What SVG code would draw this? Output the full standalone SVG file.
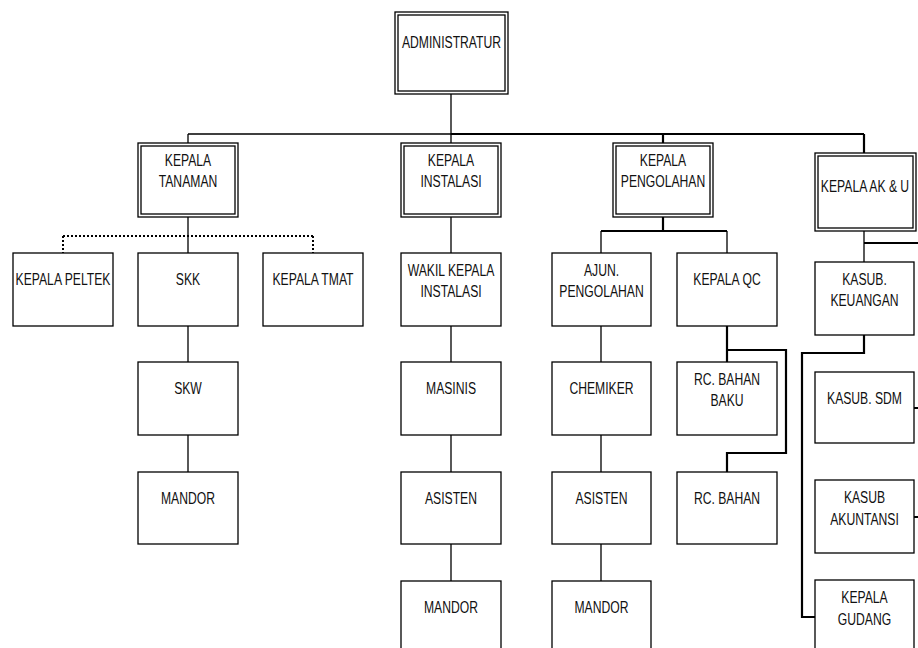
<svg xmlns="http://www.w3.org/2000/svg" width="918" height="648" viewBox="0 0 918 648">
<style>
.b{fill:#fff;stroke:#000;stroke-width:1.3}
.d{fill:none;stroke:#000;stroke-width:1.3}
.t{font-family:"Liberation Sans",Arial,sans-serif;font-size:16px;fill:#111;text-anchor:middle}
.l{fill:none;stroke:#000;stroke-width:1.3}
.k{fill:none;stroke:#000;stroke-width:2.2}
.dot{fill:none;stroke:#000;stroke-width:2;stroke-dasharray:2 2}
</style>
<rect width="918" height="648" fill="#fff"/>
<g id="connectors">
<path class="l" d="M451 94V134M188 134H451M188 134V143M451 134V143"/>
<path class="k" d="M451 134H864M663 134V143M864 134V153"/>
<path class="dot" d="M63 236H313M63 236V253M313 236V253"/>
<path class="l" d="M188 217V253M188 326V362M188 435V472"/>
<path class="l" d="M451 217V253M451 326V362M451 435V472M451 544V581"/>
<path class="k" d="M663 217V231M601 231H727"/>
<path class="l" d="M601 231V253M727 231V253M601 326V362M601 435V472M601 544V581"/>
<path class="k" d="M727 326V350H786V453H727V472M727 350V362"/>
<path class="l" d="M864 231V262"/>
<path class="k" d="M864 243H918M864 335V353H802V617H815M914 408H918M914 517H918"/>
</g>
<g id="administratur"><rect class="b" x="395" y="12" width="113" height="82"/><rect class="d" x="398" y="15" width="107" height="76"/><text class="t" transform="translate(451.5 48) scale(0.76 1)">ADMINISTRATUR</text></g>
<g id="kepala-tanaman"><rect class="b" x="138" y="143" width="100" height="74"/><rect class="d" x="141" y="146" width="94" height="68"/><text class="t" transform="translate(188 166) scale(0.76 1)">KEPALA</text><text class="t" transform="translate(188 187) scale(0.76 1)">TANAMAN</text></g>
<g id="kepala-instalasi"><rect class="b" x="401" y="143" width="100" height="74"/><rect class="d" x="404" y="146" width="94" height="68"/><text class="t" transform="translate(451 166) scale(0.76 1)">KEPALA</text><text class="t" transform="translate(451 187) scale(0.76 1)">INSTALASI</text></g>
<g id="kepala-pengolahan"><rect class="b" x="613" y="143" width="100" height="74"/><rect class="d" x="616" y="146" width="94" height="68"/><text class="t" transform="translate(663 166) scale(0.76 1)">KEPALA</text><text class="t" transform="translate(663 187) scale(0.76 1)">PENGOLAHAN</text></g>
<g id="kepala-aku"><rect class="b" x="815" y="153" width="101" height="78"/><rect class="d" x="818" y="156" width="95" height="72"/><text class="t" transform="translate(865 192) scale(0.76 1)">KEPALA AK &amp; U</text></g>
<g id="kepala-peltek"><rect class="b" x="13" y="253" width="100" height="73"/><text class="t" transform="translate(63 285) scale(0.76 1)">KEPALA PELTEK</text></g>
<g id="skk"><rect class="b" x="138" y="253" width="100" height="73"/><text class="t" transform="translate(188 285) scale(0.76 1)">SKK</text></g>
<g id="kepala-tmat"><rect class="b" x="263" y="253" width="100" height="73"/><text class="t" transform="translate(313 285) scale(0.76 1)">KEPALA TMAT</text></g>
<g id="skw"><rect class="b" x="138" y="362" width="100" height="73"/><text class="t" transform="translate(188 394) scale(0.76 1)">SKW</text></g>
<g id="mandor-1"><rect class="b" x="138" y="472" width="100" height="72"/><text class="t" transform="translate(188 504) scale(0.76 1)">MANDOR</text></g>
<g id="wakil-kepala"><rect class="b" x="401" y="253" width="100" height="73"/><text class="t" transform="translate(451 276) scale(0.76 1)">WAKIL KEPALA</text><text class="t" transform="translate(451 297) scale(0.76 1)">INSTALASI</text></g>
<g id="masinis"><rect class="b" x="401" y="362" width="100" height="73"/><text class="t" transform="translate(451 394) scale(0.76 1)">MASINIS</text></g>
<g id="asisten-1"><rect class="b" x="401" y="472" width="100" height="72"/><text class="t" transform="translate(451 504) scale(0.76 1)">ASISTEN</text></g>
<g id="mandor-2"><rect class="b" x="401" y="581" width="100" height="80"/><text class="t" transform="translate(451 613) scale(0.76 1)">MANDOR</text></g>
<g id="ajun-pengolahan"><rect class="b" x="552" y="253" width="99" height="73"/><text class="t" transform="translate(601.5 276) scale(0.76 1)">AJUN.</text><text class="t" transform="translate(601.5 297) scale(0.76 1)">PENGOLAHAN</text></g>
<g id="chemiker"><rect class="b" x="552" y="362" width="99" height="73"/><text class="t" transform="translate(601.5 394) scale(0.76 1)">CHEMIKER</text></g>
<g id="asisten-2"><rect class="b" x="552" y="472" width="99" height="72"/><text class="t" transform="translate(601.5 504) scale(0.76 1)">ASISTEN</text></g>
<g id="mandor-3"><rect class="b" x="552" y="581" width="99" height="80"/><text class="t" transform="translate(601.5 613) scale(0.76 1)">MANDOR</text></g>
<g id="kepala-qc"><rect class="b" x="677" y="253" width="100" height="73"/><text class="t" transform="translate(727 285) scale(0.76 1)">KEPALA QC</text></g>
<g id="rc-bahan-baku"><rect class="b" x="677" y="362" width="100" height="73"/><text class="t" transform="translate(727 385) scale(0.76 1)">RC. BAHAN</text><text class="t" transform="translate(727 406) scale(0.76 1)">BAKU</text></g>
<g id="rc-bahan"><rect class="b" x="677" y="472" width="100" height="72"/><text class="t" transform="translate(727 504) scale(0.76 1)">RC. BAHAN</text></g>
<g id="kasub-keuangan"><rect class="b" x="815" y="262" width="99" height="73"/><text class="t" transform="translate(864.5 285) scale(0.76 1)">KASUB.</text><text class="t" transform="translate(864.5 306) scale(0.76 1)">KEUANGAN</text></g>
<g id="kasub-sdm"><rect class="b" x="815" y="372" width="99" height="71"/><text class="t" transform="translate(864.5 404) scale(0.76 1)">KASUB. SDM</text></g>
<g id="kasub-akuntansi"><rect class="b" x="815" y="480" width="99" height="73"/><text class="t" transform="translate(864.5 503) scale(0.76 1)">KASUB</text><text class="t" transform="translate(864.5 525) scale(0.76 1)">AKUNTANSI</text></g>
<g id="kepala-gudang"><rect class="b" x="815" y="580" width="99" height="80"/><text class="t" transform="translate(864.5 603) scale(0.76 1)">KEPALA</text><text class="t" transform="translate(864.5 625) scale(0.76 1)">GUDANG</text></g>
</svg>
